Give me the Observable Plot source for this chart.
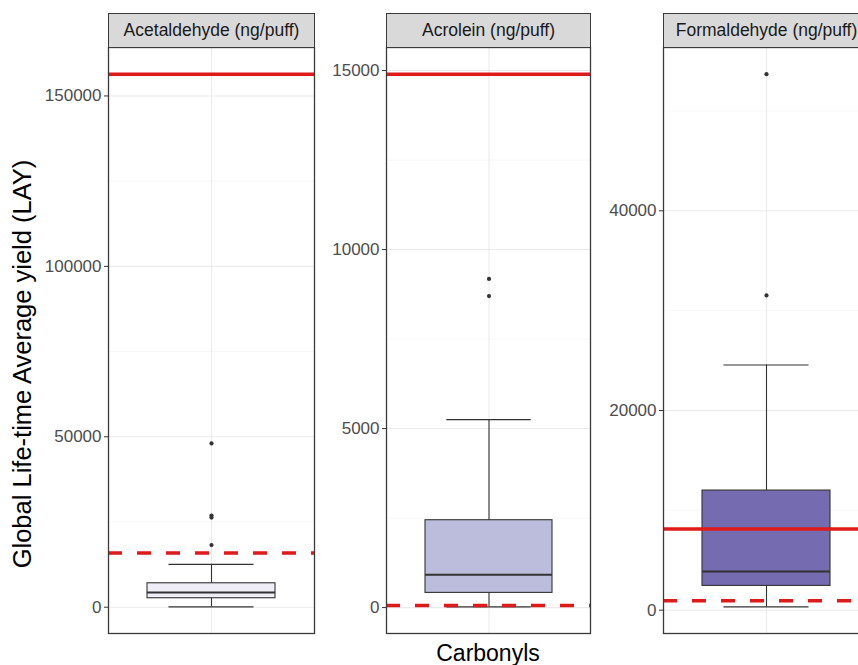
<!DOCTYPE html>
<html><head><meta charset="utf-8">
<script src="https://cdn.jsdelivr.net/npm/d3@7"></script>
<script src="https://cdn.jsdelivr.net/npm/@observablehq/plot@0.6"></script>
<style>
body{margin:0;background:#fff;}
#chart{position:relative;width:858px;height:665px;overflow:hidden;font-family:"Liberation Sans",Arial,sans-serif;background:#fff;}
#chart svg{position:absolute;overflow:visible;}
.strip{position:absolute;box-sizing:border-box;border:1.2px solid #3a3a3a;background:#d9d9d9;color:#1a1a1a;font-size:17.5px;text-align:center;white-space:nowrap;display:flex;align-items:center;justify-content:center;}
.ytitle{position:absolute;font-size:25.5px;color:#000;white-space:nowrap;transform:translate(-50%,-50%) rotate(-90deg);}
.xtitle{position:absolute;font-size:23px;color:#000;white-space:nowrap;transform:translateX(-50%);}
</style></head><body><div id="chart"></div>
<script>
// ---- data ----
const facets = ["Acetaldehyde (ng/puff)", "Acrolein (ng/puff)", "Formaldehyde (ng/puff)"];
const category = "Carbonyls";
const lowerWhisker = [100, 20, 330];
const q1 = [2630, 410, 2430];
const median = [4300, 920, 3860];
const q3 = [7020, 2440, 11980];
const upperWhisker = [12570, 5250, 24560];
const outliers = [[48050, 26900, 26300, 18220], [9180, 8700], [53690, 31520]];
const solidLimit = [156400, 14900, 8120];
const dashedLimit = [15900, 60, 930];
const yTicks = [[0, 50000, 100000, 150000], [0, 5000, 10000, 15000], [0, 20000, 40000]];
const yMinorTicks = [[25000, 75000, 125000], [2500, 7500, 12500], [10000, 30000, 50000]];
const fills = ["#efedf5", "#bcbddc", "#756bb1"];
const yTitle = "Global Life-time Average yield (LAY)";

// ---- layout ----
const panelX = [[108, 314], [386, 590], [663, 869]];
const panelTop = 47, panelBottom = 633, stripTop = 13;
const red = "#de1a1a", ink = "#3a3a3a";
const chart = document.getElementById("chart");

facets.forEach((name, i) => {
  const [left, right] = panelX[i];
  const pw = right - left;
  const ml = i === 0 ? 100 : 72;
  const vals = [lowerWhisker[i], upperWhisker[i], ...outliers[i], solidLimit[i], dashedLimit[i]];
  const lo = d3.min(vals), hi = d3.max(vals), pad = (hi - lo) * 0.05;
  const capInset = pw * 0.625 * (1 - 0.5 / 0.75) / 2;
  const svg = Plot.plot({
    width: ml + pw + 1, height: panelBottom - panelTop + 2,
    marginLeft: ml, marginRight: 1, marginTop: 1, marginBottom: 1,
    style: {fontFamily: '"Liberation Sans", Arial, sans-serif', background: "transparent"},
    x: {type: "band", domain: [category], paddingInner: 0, paddingOuter: 0.3, axis: null},
    y: {domain: [lo - pad, hi + pad], axis: null},
    marks: [
      Plot.gridY(yMinorTicks[i], {stroke: "#f3f3f3", strokeOpacity: 1, strokeWidth: 0.7}),
      Plot.gridY(yTicks[i], {stroke: "#ebebeb", strokeOpacity: 1, strokeWidth: 1.1}),
      Plot.gridX([category], {stroke: "#ebebeb", strokeOpacity: 1, strokeWidth: 1.1}),
      Plot.ruleX([i], {x: () => category, y1: d => lowerWhisker[d], y2: d => upperWhisker[d], stroke: "#333", strokeWidth: 1.1}),
      Plot.tickY([lowerWhisker[i], upperWhisker[i]], {x: () => category, y: d => d, insetLeft: capInset, insetRight: capInset, stroke: "#333", strokeWidth: 1.1}),
      Plot.barY([i], {x: () => category, y1: d => q1[d], y2: d => q3[d], fill: fills[i], stroke: "#333", strokeWidth: 1.1}),
      Plot.tickY([median[i]], {x: () => category, y: d => d, stroke: "#333", strokeWidth: 2}),
      Plot.dot(outliers[i], {x: () => category, y: d => d, r: 2.1, fill: "#333", stroke: null}),
      Plot.ruleY([solidLimit[i]], {y: d => d, stroke: red, strokeWidth: 3.5}),
      Plot.ruleY([dashedLimit[i]], {y: d => d, stroke: red, strokeWidth: 3.5, strokeDasharray: "14,15"}),
      Plot.frame({stroke: ink, strokeWidth: 1.3}),
      Plot.axisY(yTicks[i], {tickSize: 4, tickPadding: 3, tickFormat: d => String(d), fontSize: 17, fill: "#4d4d4d", stroke: "#333", label: null})
    ]
  });
  svg.style.left = (left - ml) + "px";
  svg.style.top = (panelTop - 1) + "px";
  chart.appendChild(svg);

  const strip = document.createElement("div");
  strip.className = "strip";
  strip.style.left = left + "px";
  strip.style.top = stripTop + "px";
  strip.style.width = (pw + 1) + "px";
  strip.style.height = (panelTop - stripTop + 1) + "px";
  strip.textContent = name;
  chart.appendChild(strip);
});

const yt = document.createElement("div");
yt.className = "ytitle";
yt.style.left = "22px";
yt.style.top = "364px";
yt.textContent = yTitle;
chart.appendChild(yt);

const xt = document.createElement("div");
xt.className = "xtitle";
xt.style.left = "488px";
xt.style.top = "640px";
xt.textContent = category;
chart.appendChild(xt);
</script></body></html>
